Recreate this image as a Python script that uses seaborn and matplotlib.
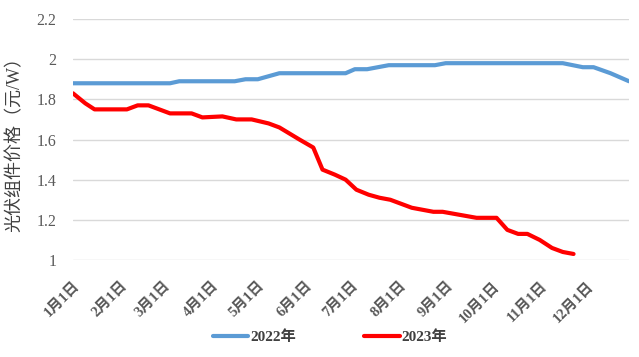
import pandas as pd
import seaborn as sns
import matplotlib.pyplot as plt

# 2022 price series (month-day, yuan/W)
dates_2022 = ["01-01", "03-05", "03-11", "04-16", "04-23", "05-01", "05-15",
              "06-27", "07-03", "07-11", "07-25", "08-24", "08-31", "11-15",
              "11-28", "12-05", "12-16", "12-28"]
price_2022 = [1.88, 1.88, 1.89, 1.89, 1.90, 1.90, 1.93,
              1.93, 1.95, 1.95, 1.97, 1.97, 1.98, 1.98,
              1.96, 1.96, 1.93, 1.89]

# 2023 price series
dates_2023 = ["01-01", "01-09", "01-15", "02-05", "02-12", "02-19", "03-05",
              "03-19", "03-26", "04-08", "04-17", "04-27", "05-08", "05-15",
              "05-28", "06-06", "06-12", "06-20", "06-27", "07-04", "07-12",
              "07-19", "07-26", "08-09", "08-23", "08-29", "09-20", "10-03",
              "10-10", "10-17", "10-23", "10-31", "11-08", "11-15", "11-22"]
price_2023 = [1.83, 1.78, 1.75, 1.75, 1.77, 1.77, 1.73,
              1.73, 1.71, 1.715, 1.70, 1.70, 1.68, 1.66,
              1.60, 1.56, 1.45, 1.425, 1.40, 1.35, 1.325,
              1.31, 1.30, 1.26, 1.24, 1.24, 1.21, 1.21,
              1.15, 1.13, 1.13, 1.10, 1.06, 1.04, 1.03]

month_ticks = ["01-01", "02-01", "03-01", "04-01", "05-01", "06-01",
               "07-01", "08-01", "09-01", "10-01", "11-01", "12-01"]
month_labels = ["1月1日", "2月1日", "3月1日", "4月1日", "5月1日", "6月1日",
                "7月1日", "8月1日", "9月1日", "10月1日", "11月1日", "12月1日"]
y_ticks = [1, 1.2, 1.4, 1.6, 1.8, 2, 2.2]
y_labels = ["1", "1.2", "1.4", "1.6", "1.8", "2", "2.2"]

# plot both years on a common month-day axis
def to_date(md):
    return pd.to_datetime(["2022-" + d for d in md])

df = pd.concat([
    pd.DataFrame({"date": to_date(dates_2022), "price": price_2022, "year": "2022年"}),
    pd.DataFrame({"date": to_date(dates_2023), "price": price_2023, "year": "2023年"}),
])

sns.set_style("white")
plt.rcParams["font.family"] = ["Liberation Serif", "Noto Sans CJK SC"]

fig = plt.figure(figsize=(6.39, 3.57), dpi=100)
ax = fig.add_axes([73/639, 97/357, 556/639, 241/357])

sns.lineplot(data=df, x="date", y="price", hue="year", estimator=None,
             palette={"2022年": "#5B9BD5", "2023年": "#FF0000"},
             linewidth=3, ax=ax, legend=False)

ax.set_ylim(1, 2.2)
ax.set_xlim(df["date"].min(), to_date(dates_2022)[-1])
ax.set_yticks(y_ticks)
ax.set_yticklabels(y_labels)
ax.set_xticks(to_date(month_ticks))
ax.set_xticklabels(month_labels, rotation=45, ha="right", rotation_mode="anchor",
                   fontweight="bold", fontsize=10.5, color="#595959")
ax.tick_params(axis="y", length=0, pad=12, labelsize=11.5, labelcolor="#595959")
ax.tick_params(axis="x", length=0, pad=14)
ax.grid(axis="y", color="#d9d9d9", linewidth=1)
ax.set_axisbelow(True)
for s in ax.spines.values():
    s.set_visible(False)

ax.set_xlabel("")
ax.set_ylabel("光伏组件价格（元/W）", fontsize=13, color="#404040", labelpad=9)

handles = [plt.Line2D([], [], color="#5B9BD5", linewidth=3),
           plt.Line2D([], [], color="#FF0000", linewidth=3)]
fig.legend(handles, ["2022年", "2023年"], loc="center", ncol=2,
           bbox_to_anchor=(330/639, 20/357), frameon=False,
           prop={"weight": "bold", "size": 11}, labelcolor="#404040",
           handlelength=2.3, handletextpad=0.15, columnspacing=4.5)

fig.savefig("out.png", dpi=100)
